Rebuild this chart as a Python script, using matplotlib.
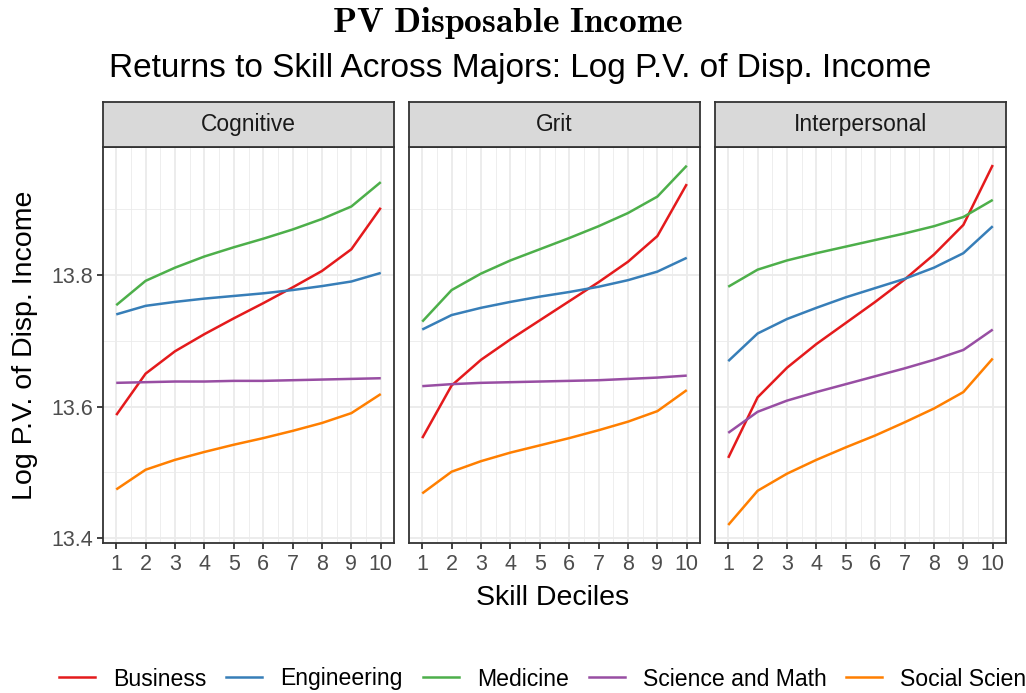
import numpy as np
import matplotlib
matplotlib.use("Agg")
import matplotlib.pyplot as plt
from matplotlib.lines import Line2D

plt.rcParams['font.family'] = ['Liberation Sans', 'DejaVu Sans']
plt.rcParams['mathtext.fontset'] = 'cm'

# --- data ---
deciles = list(range(1, 11))
skills = ["Cognitive", "Grit", "Interpersonal"]
majors = ["Business", "Engineering", "Medicine", "Science and Math", "Social Science"]
colors = ["#E41A1C", "#377EB8", "#4DAF4A", "#984EA3", "#FF7F00"]

cognitive = {
    "Business":         [13.587, 13.650, 13.684, 13.710, 13.734, 13.757, 13.781, 13.806, 13.839, 13.902],
    "Engineering":      [13.740, 13.753, 13.759, 13.764, 13.768, 13.772, 13.777, 13.783, 13.790, 13.803],
    "Medicine":         [13.754, 13.791, 13.811, 13.828, 13.842, 13.855, 13.869, 13.885, 13.904, 13.941],
    "Science and Math": [13.636, 13.637, 13.638, 13.638, 13.639, 13.639, 13.640, 13.641, 13.642, 13.643],
    "Social Science":   [13.474, 13.504, 13.519, 13.531, 13.542, 13.552, 13.563, 13.575, 13.590, 13.619],
}
grit = {
    "Business":         [13.552, 13.632, 13.671, 13.702, 13.731, 13.760, 13.789, 13.820, 13.859, 13.938],
    "Engineering":      [13.717, 13.739, 13.750, 13.759, 13.767, 13.774, 13.782, 13.792, 13.805, 13.826],
    "Medicine":         [13.729, 13.777, 13.802, 13.822, 13.839, 13.856, 13.874, 13.894, 13.919, 13.966],
    "Science and Math": [13.631, 13.634, 13.636, 13.637, 13.638, 13.639, 13.640, 13.642, 13.644, 13.647],
    "Social Science":   [13.468, 13.501, 13.517, 13.530, 13.541, 13.552, 13.564, 13.577, 13.593, 13.625],
}
interpersonal = {
    "Business":         [13.522, 13.614, 13.659, 13.695, 13.727, 13.759, 13.793, 13.831, 13.876, 13.967],
    "Engineering":      [13.669, 13.711, 13.733, 13.750, 13.766, 13.780, 13.794, 13.811, 13.833, 13.874],
    "Medicine":         [13.782, 13.808, 13.822, 13.833, 13.843, 13.853, 13.863, 13.874, 13.888, 13.914],
    "Science and Math": [13.560, 13.592, 13.609, 13.622, 13.634, 13.646, 13.658, 13.671, 13.686, 13.717],
    "Social Science":   [13.420, 13.472, 13.498, 13.519, 13.538, 13.556, 13.576, 13.597, 13.622, 13.673],
}
panels = [cognitive, grit, interpersonal]

W, H = 1026, 693
fig = plt.figure(figsize=(W / 100, H / 100), dpi=100)

# panel layout in pixels
lefts = [103, 409, 715]
pw = 291
top, bottom = 147, 543
strip_h = 45

all_vals = np.concatenate([np.array(v) for p in panels for v in p.values()])
lo, hi = all_vals.min(), all_vals.max()
pad = (hi - lo) * 0.05

grid_c = "#EBEBEB"
dark = "#333333"
tick_c = "#4D4D4D"

for i, (skill, data) in enumerate(zip(skills, panels)):
    ax = fig.add_axes([lefts[i] / W, 1 - bottom / H, pw / W, (bottom - top) / H])
    for m, c in zip(majors, colors):
        ax.plot(deciles, data[m], color=c, lw=1.8, solid_capstyle='butt', zorder=3)
    ax.set_xlim(1 - 0.45, 10.45)
    ax.set_ylim(lo - pad, hi + pad)
    ax.set_xticks(deciles)
    ax.set_xticks(np.arange(1.5, 10, 1), minor=True)
    ax.set_yticks([13.4, 13.6, 13.8])
    ax.set_yticks([13.5, 13.7, 13.9], minor=True)
    ax.grid(True, which='major', color=grid_c, lw=1.3, zorder=0)
    ax.grid(True, which='minor', color=grid_c, lw=0.6, zorder=0)
    ax.tick_params(which='minor', length=0)
    ax.tick_params(which='major', length=4, width=1.3, color=dark,
                   labelsize=15.5, labelcolor=tick_c)
    ax.tick_params(axis='x', pad=4)
    ax.tick_params(axis='y', pad=3)
    for s in ax.spines.values():
        s.set_color(dark)
        s.set_linewidth(1.3)
    if i > 0:
        ax.tick_params(axis='y', left=False, labelleft=False)
    else:
        ax.set_yticklabels(["13.4", "13.6", "13.8"])

    # facet strip
    sax = fig.add_axes([lefts[i] / W, 1 - top / H, pw / W, strip_h / H])
    sax.set_facecolor("#D9D9D9")
    sax.set_xticks([])
    sax.set_yticks([])
    for s in sax.spines.values():
        s.set_color(dark)
        s.set_linewidth(1.3)
    sax.text(0.5, 0.5, skill, ha='center', va='center', fontsize=16.4,
             color="#1A1A1A", transform=sax.transAxes)

fig.text(508 / W, 1 - 23 / H, r'$\mathbf{PV\ Disposable\ Income}$',
         ha='center', va='center', fontsize=25.5)
fig.text(520 / W, 1 - 68 / H, "Returns to Skill Across Majors: Log P.V. of Disp. Income",
         ha='center', va='center', fontsize=24)
fig.text(553 / W, 1 - 598 / H, "Skill Deciles", ha='center', va='center', fontsize=20.5)
fig.text(25 / W, 1 - 345 / H, "Log P.V. of Disp. Income", ha='center', va='center',
         rotation=90, fontsize=20.5)

handles = [Line2D([], [], color=c, lw=1.8) for c in colors]
fig.legend(handles, majors, loc='center left', bbox_to_anchor=(59 / W, 1 - 679 / H),
           ncol=5, frameon=False, fontsize=16.6, handlelength=1.56,
           handletextpad=0.78, columnspacing=0.87, borderaxespad=0, borderpad=0)

fig.savefig("out.png", dpi=100)
